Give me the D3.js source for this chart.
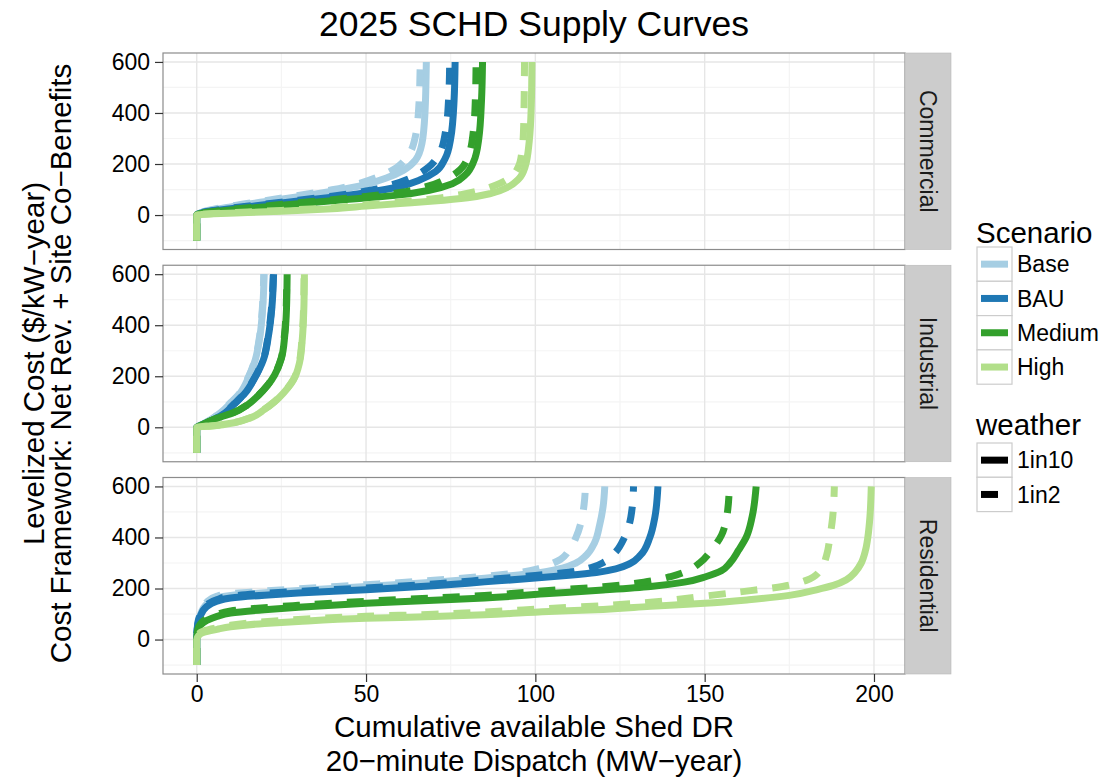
<!DOCTYPE html>
<html><head><meta charset="utf-8">
<script src="https://cdn.jsdelivr.net/npm/d3@7"></script>
<style>
body{margin:0;background:#fff;}
text{font-family:"Liberation Sans",Arial,Helvetica,sans-serif;}
</style>
</head><body><svg id="chart" width="1106" height="780"></svg>
<script>
// ---------------- data ----------------
const chartTitle = "2025 SCHD Supply Curves";
const xTitleLines = ["Cumulative available Shed DR", "20\u2212minute Dispatch (MW\u2212year)"];
const yTitleLines = ["Levelized Cost ($/kW\u2212year)", "Cost Framework: Net Rev. + Site Co\u2212Benefits"];
const sectors = ["Commercial", "Industrial", "Residential"];
const scenarios = ["Base", "BAU", "Medium", "High"];
const weathers = ["1in10", "1in2"];
const xTicks = [0, 50, 100, 150, 200];
const yTicks = [0, 200, 400, 600];

// Commercial
const com_Base_1in10 = [[0,-100],[0,0],[3,15],[10,32],[20,52],[30,72],[40,93],[50,120],[56,145],[61,175],[64.6,215],[66.5,280],[67.4,400],[67.8,600]];
const com_Base_1in2 = [[0,-100],[0,0],[3,17],[10,35],[20,56],[30,77],[40,99],[48,124],[54,152],[59,186],[62.5,235],[64.6,310],[65.6,430],[66,600]];
const com_BAU_1in10 = [[0,-100],[0,0],[3,13],[10,25],[20,40],[30,55],[40,70],[50,88],[60,112],[66,138],[70.5,170],[73.3,220],[75,300],[76,450],[76.3,600]];
const com_BAU_1in2 = [[0,-100],[0,0],[3,14],[10,27],[20,43],[30,58],[40,74],[50,94],[58,120],[64,150],[68.5,188],[71.6,240],[73.5,330],[74.4,460],[74.7,600]];
const com_Medium_1in10 = [[0,-100],[0,0],[3,10],[10,20],[20,32],[30,44],[40,56],[50,67],[60,79],[69,98],[75.5,123],[79.5,160],[81.8,210],[83.3,300],[84.1,450],[84.4,600]];
const com_Medium_1in2 = [[0,-100],[0,0],[3,11],[10,22],[20,35],[30,48],[40,60],[50,73],[60,88],[67.5,110],[73.5,140],[77.8,178],[80.3,235],[81.7,330],[82.3,460],[82.5,600]];
const com_High_1in10 = [[0,-100],[0,0],[5,5],[15,10],[25,15],[40,25],[50,35],[60,45],[70,55],[80,68],[87,85],[92,110],[95,140],[97,190],[98.2,290],[98.8,430],[99,600]];
const com_High_1in2 = [[0,-100],[0,0],[5,6],[15,12],[25,18],[40,29],[50,40],[60,51],[70,64],[78,80],[84.5,100],[89.5,124],[93,152],[95,190],[96,245],[96.5,330],[96.7,460],[96.8,600]];

// Industrial
const ind_Base_1in10 = [[0,-100],[0,0],[2,14],[4.5,33],[7,57],[10,95],[12.8,134],[15.3,195],[17.3,265],[18.7,360],[19.5,470],[19.9,600]];
const ind_Base_1in2 = [[0,-100],[0,0],[2,14],[4.5,33],[6.9,57],[9.9,95],[12.7,134],[15.2,195],[17.2,265],[18.6,360],[19.4,470],[19.8,600]];
const ind_BAU_1in10 = [[0,-100],[0,0],[2,12],[5,30],[8.4,57],[11,90],[14.3,134],[17,190],[19.7,265],[21.2,360],[22.2,470],[22.7,600]];
const ind_BAU_1in2 = [[0,-100],[0,0],[2,12],[5,30],[8.3,57],[10.9,90],[14.2,134],[16.9,190],[19.6,265],[21.1,360],[22.1,470],[22.6,600]];
const ind_Medium_1in10 = [[0,-100],[0,0],[2,12],[4,25],[7,40],[11,58],[15,88],[18,122],[21,165],[23,205],[25,270],[26,360],[26.5,460],[26.7,600]];
const ind_Medium_1in2 = [[0,-100],[0,0],[2,12],[4,25],[6.9,40],[10.9,58],[14.9,88],[17.9,122],[20.9,165],[22.9,205],[24.9,270],[25.9,360],[26.4,460],[26.6,600]];
const ind_High_1in10 = [[0,-100],[0,0],[5,6],[11,18],[16,38],[20,70],[23,100],[25.6,134],[28.6,186],[30.3,250],[31.2,350],[31.6,450],[31.8,600]];
const ind_High_1in2 = [[0,-100],[0,0],[5,6],[11,18],[15.9,38],[19.9,70],[22.9,100],[25.5,134],[28.5,186],[30.2,250],[31.1,350],[31.5,450],[31.7,600]];

// Residential
const res_Base_1in10 = [[0,-100],[0,0],[0.3,60],[1,95],[3,140],[6,163],[10,173],[20,183],[30,192],[50,208],[70,225],[85,240],[95,253],[103,266],[108,280],[112,300],[115,330],[117.5,380],[119,450],[120,520],[120.5,600]];
const res_Base_1in2 = [[0,-100],[0,0],[0.3,65],[1,100],[3,147],[6,170],[10,180],[20,190],[30,199],[50,215],[70,232],[85,248],[95,262],[101,278],[104.5,295],[107.5,315],[110,350],[112,400],[113.5,460],[114.4,530],[114.8,600]];
const res_BAU_1in10 = [[0,-100],[0,0],[0.3,55],[1,90],[3,130],[6,150],[10,163],[20,174],[30,182],[50,195],[70,211],[85,226],[100,241],[110,252],[118,263],[124,278],[128,298],[131,330],[133.8,400],[135.3,480],[136.2,600]];
const res_BAU_1in2 = [[0,-100],[0,0],[0.3,60],[1,95],[3,137],[6,157],[10,170],[20,181],[30,189],[50,202],[70,218],[85,234],[100,251],[110,264],[116.5,282],[120.5,305],[123.5,340],[126.3,400],[128.2,480],[129,600]];
const res_Medium_1in10 = [[0,-100],[0,0],[0.3,35],[1,55],[3,75],[6,91],[10,104],[20,117],[30,127],[50,142],[70,154],[85,163],[104,180],[120,194],[134,208],[144,225],[150.5,247],[155,270],[157.4,299],[160,350],[162.3,402],[164,480],[165.2,600]];
const res_Medium_1in2 = [[0,-100],[0,0],[0.3,40],[1,60],[3,82],[6,98],[10,112],[20,125],[30,134],[50,150],[70,163],[85,173],[104,192],[120,207],[132,225],[140,247],[145,270],[148.5,300],[152,350],[155,410],[156.5,480],[157.3,600]];
const res_High_1in10 = [[0,-100],[0,0],[0.5,15],[2,28],[6,40],[10,50],[20,63],[30,71],[50,83],[70,90],[85,97],[104,110],[120,118],[134,130],[150,142],[163,156],[175,173],[183,195],[188,212],[191.8,234],[194.5,265],[196.2,299],[197.5,350],[198.2,402],[198.8,480],[199.2,600]];
const res_High_1in2 = [[0,-100],[0,0],[0.5,20],[2,33],[6,46],[10,56],[20,70],[30,79],[50,91],[70,99],[85,108],[104,122],[120,133],[134,146],[148.5,168],[160,186],[173,208],[180,232],[184,268],[186,330],[187,402],[187.8,480],[188.3,600]];

// palette (style)
const scenarioColors = ["#A6CEE3", "#1F78B4", "#33A02C", "#B2DF8A"];

// lookup table built from the arrays above
const curves = {
  Commercial: {Base:{"1in10":com_Base_1in10,"1in2":com_Base_1in2}, BAU:{"1in10":com_BAU_1in10,"1in2":com_BAU_1in2},
               Medium:{"1in10":com_Medium_1in10,"1in2":com_Medium_1in2}, High:{"1in10":com_High_1in10,"1in2":com_High_1in2}},
  Industrial: {Base:{"1in10":ind_Base_1in10,"1in2":ind_Base_1in2}, BAU:{"1in10":ind_BAU_1in10,"1in2":ind_BAU_1in2},
               Medium:{"1in10":ind_Medium_1in10,"1in2":ind_Medium_1in2}, High:{"1in10":ind_High_1in10,"1in2":ind_High_1in2}},
  Residential:{Base:{"1in10":res_Base_1in10,"1in2":res_Base_1in2}, BAU:{"1in10":res_BAU_1in10,"1in2":res_BAU_1in2},
               Medium:{"1in10":res_Medium_1in10,"1in2":res_Medium_1in2}, High:{"1in10":res_High_1in10,"1in2":res_High_1in2}}
};

// ---------------- layout ----------------
const svg = d3.select("#chart");
const panelLeft = 163, panelRight = 905;
const panelTop = 53, panelH = 196.5, panelGap = 15.75;
const stripW = 46;
const lineW = 7, dashPat = "17,15";
const tickFont = 23, titleFont = 29.5;

const allPts = [];
sectors.forEach(s => scenarios.forEach(c => weathers.forEach(w => curves[s][c][w].forEach(p => allPts.push(p)))));
const xExt = d3.extent(allPts, d => d[0]);
const yExt = d3.extent(allPts, d => d[1]);
const xPad = (xExt[1] - xExt[0]) * 0.05, yPad = (yExt[1] - yExt[0]) * 0.05;

const x = d3.scaleLinear().domain([xExt[0] - xPad, xExt[1] + xPad]).range([panelLeft, panelRight]);
const colorScale = d3.scaleOrdinal().domain(scenarios).range(scenarioColors);
const dashScale = d3.scaleOrdinal().domain(weathers).range([null, dashPat]);

svg.append("rect").attr("width", 1106).attr("height", 780).attr("fill", "#fff");

// title
svg.append("text").attr("x", (panelLeft + panelRight) / 2).attr("y", 36)
  .attr("text-anchor", "middle").attr("font-size", 35.5).attr("fill", "#000").text(chartTitle);

const xMinor = [];
for (let i = 0; i < xTicks.length - 1; i++) xMinor.push((xTicks[i] + xTicks[i + 1]) / 2);
const yMinor = [yTicks[0] - (yTicks[1] - yTicks[0]) / 2];
for (let i = 0; i < yTicks.length - 1; i++) yMinor.push((yTicks[i] + yTicks[i + 1]) / 2);

sectors.forEach((sector, i) => {
  const top = panelTop + i * (panelH + panelGap);
  const bottom = top + panelH;
  const y = d3.scaleLinear().domain([yExt[0] - yPad, yExt[1] + yPad]).range([bottom, top]);
  const g = svg.append("g");

  const clipId = "clip" + i;
  svg.append("clipPath").attr("id", clipId).append("rect")
    .attr("x", panelLeft).attr("y", top).attr("width", panelRight - panelLeft).attr("height", panelH);

  g.append("rect").attr("x", panelLeft).attr("y", top).attr("width", panelRight - panelLeft).attr("height", panelH).attr("fill", "#fff");

  // minor grid
  g.selectAll(".xm").data(xMinor.filter(v => x(v) > panelLeft && x(v) < panelRight)).enter().append("line")
    .attr("x1", d => x(d)).attr("x2", d => x(d)).attr("y1", top).attr("y2", bottom)
    .attr("stroke", "#F4F4F4").attr("stroke-width", 1.2);
  g.selectAll(".ym").data(yMinor.filter(v => y(v) > top && y(v) < bottom)).enter().append("line")
    .attr("y1", d => y(d)).attr("y2", d => y(d)).attr("x1", panelLeft).attr("x2", panelRight)
    .attr("stroke", "#F4F4F4").attr("stroke-width", 1.2);
  // major grid
  g.selectAll(".xg").data(xTicks).enter().append("line")
    .attr("x1", d => x(d)).attr("x2", d => x(d)).attr("y1", top).attr("y2", bottom)
    .attr("stroke", "#E6E6E6").attr("stroke-width", 1.4);
  g.selectAll(".yg").data(yTicks).enter().append("line")
    .attr("y1", d => y(d)).attr("y2", d => y(d)).attr("x1", panelLeft).attr("x2", panelRight)
    .attr("stroke", "#E6E6E6").attr("stroke-width", 1.4);

  // curves
  const line = d3.line().x(d => x(d[0])).y(d => y(d[1])).curve(d3.curveMonotoneY);
  const lg = g.append("g").attr("clip-path", "url(#" + clipId + ")");
  scenarios.forEach(sc => {
    weathers.forEach(w => {
      lg.append("path").datum(curves[sector][sc][w])
        .attr("d", line).attr("fill", "none")
        .attr("stroke", colorScale(sc)).attr("stroke-width", lineW)
        .attr("stroke-linecap", "butt").attr("stroke-linejoin", "round")
        .attr("stroke-dasharray", dashScale(w));
    });
  });

  // border
  g.append("rect").attr("x", panelLeft).attr("y", top).attr("width", panelRight - panelLeft).attr("height", panelH)
    .attr("fill", "none").attr("stroke", "#8C8C8C").attr("stroke-width", 1.2);

  // strip
  g.append("rect").attr("x", panelRight).attr("y", top).attr("width", stripW).attr("height", panelH)
    .attr("fill", "#CCCCCC").attr("stroke", "#B8B8B8").attr("stroke-width", 0.6);
  g.append("text").attr("transform", `translate(${panelRight + stripW / 2},${(top + bottom) / 2}) rotate(90)`)
    .attr("text-anchor", "middle").attr("dy", "0.35em").attr("font-size", tickFont).attr("fill", "#1A1A1A").text(sector);

  // y axis
  const yAxis = d3.axisLeft(y).tickValues(yTicks).tickSize(8).tickPadding(5).tickFormat(d3.format("d"));
  const ya = svg.append("g").attr("transform", `translate(${panelLeft},0)`).call(yAxis);
  ya.select(".domain").remove();
  ya.selectAll("line").attr("stroke", "#333").attr("stroke-width", 1.2);
  ya.selectAll("text").attr("font-size", tickFont).attr("fill", "#000").attr("font-family", "Liberation Sans, Arial, sans-serif");

  if (i === sectors.length - 1) {
    const xAxis = d3.axisBottom(x).tickValues(xTicks).tickSize(8).tickPadding(4).tickFormat(d3.format("d"));
    const xa = svg.append("g").attr("transform", `translate(0,${bottom})`).call(xAxis);
    xa.select(".domain").remove();
    xa.selectAll("line").attr("stroke", "#333").attr("stroke-width", 1.2);
    xa.selectAll("text").attr("font-size", tickFont).attr("fill", "#000").attr("font-family", "Liberation Sans, Arial, sans-serif");
  }
});

// axis titles
xTitleLines.forEach((t, k) => {
  svg.append("text").attr("x", (panelLeft + panelRight) / 2).attr("y", 737 + k * 34)
    .attr("text-anchor", "middle").attr("font-size", titleFont).attr("fill", "#000").text(t);
});

const midY = panelTop + (3 * panelH + 2 * panelGap) / 2;
yTitleLines.forEach((t, k) => {
  svg.append("text").attr("transform", `translate(${44 + k * 26.5},${midY}) rotate(-90)`)
    .attr("text-anchor", "middle").attr("font-size", titleFont).attr("fill", "#000").text(t);
});

// legends
const legX = 977, keyW = 35, keyH = 34.3;
const leg1 = svg.append("g");
leg1.append("text").attr("x", legX - 1).attr("y", 243).attr("font-size", titleFont).attr("fill", "#000").text("Scenario");
scenarios.forEach((sc, k) => {
  const ky = 247 + k * keyH;
  leg1.append("rect").attr("x", legX).attr("y", ky).attr("width", keyW).attr("height", keyH)
    .attr("fill", "#fff").attr("stroke", "#CCCCCC").attr("stroke-width", 1.2);
  leg1.append("line").attr("x1", legX + 4).attr("x2", legX + keyW - 4).attr("y1", ky + keyH / 2).attr("y2", ky + keyH / 2)
    .attr("stroke", colorScale(sc)).attr("stroke-width", lineW);
  leg1.append("text").attr("x", legX + keyW + 5).attr("y", ky + keyH / 2).attr("dy", "0.35em")
    .attr("font-size", tickFont).attr("fill", "#000").text(sc);
});

const leg2 = svg.append("g");
leg2.append("text").attr("x", legX - 1).attr("y", 435).attr("font-size", titleFont).attr("fill", "#000").text("weather");
weathers.forEach((w, k) => {
  const ky = 443 + k * keyH;
  leg2.append("rect").attr("x", legX).attr("y", ky).attr("width", keyW).attr("height", keyH)
    .attr("fill", "#fff").attr("stroke", "#CCCCCC").attr("stroke-width", 1.2);
  leg2.append("line").attr("x1", legX + 4).attr("x2", legX + keyW - 4).attr("y1", ky + keyH / 2).attr("y2", ky + keyH / 2)
    .attr("stroke", "#000").attr("stroke-width", lineW).attr("stroke-dasharray", dashScale(w));
  leg2.append("text").attr("x", legX + keyW + 5).attr("y", ky + keyH / 2).attr("dy", "0.35em")
    .attr("font-size", tickFont).attr("fill", "#000").text(w);
});
</script>
</body></html>
